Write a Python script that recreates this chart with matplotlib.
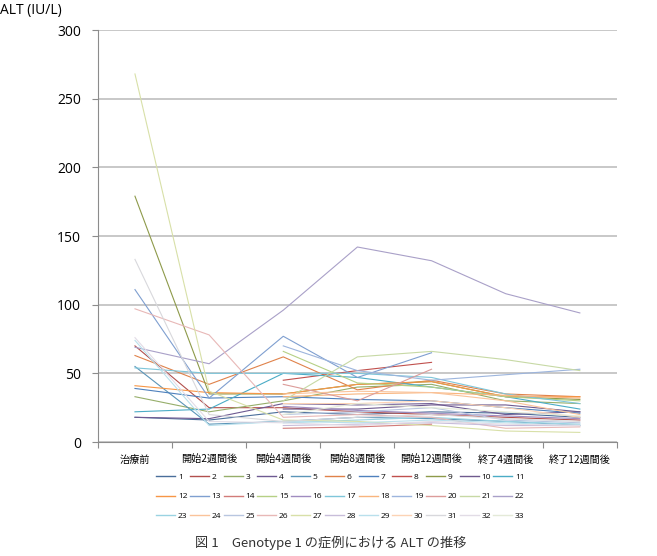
import numpy as np
import matplotlib
matplotlib.use('Agg')
import matplotlib.pyplot as plt

plt.rcParams['font.family'] = ['Open Sans', 'Noto Sans CJK JP', 'DejaVu Sans']

nan = np.nan

# categories (x axis)
categories = ['治療前', '開始2週間後', '開始4週間後', '開始8週間後', '開始12週間後', '終了4週間後', '終了12週間後']

# ALT values per patient (IU/L), nan = not measured
s1 = [18, 16, 22, 20, 22, 21, 18]
s2 = [70, 25, 25, 22, 20, 18, 16]
s3 = [33, 22, 30, 40, 42, 30, 28]
s4 = [18, 17, 28, 27, 28, 20, 22]
s5 = [55, 13, 15, 18, 17, 15, 12]
s6 = [63, 42, 62, 38, 45, 35, 33]
s7 = [39, 32, 33, 31, 30, 25, 21]
s8 = [nan, nan, 45, 52, 58, nan, nan]
s9 = [179, 35, 35, 42, 44, 33, 31]
s10 = [nan, nan, 24, 24, 27, 27, 22]
s11 = [22, 24, 50, 47, 40, 33, 24]
s12 = [41, 36, 35, 42, 44, 33, 33]
s13 = [111, 32, 77, 47, 65, nan, nan]
s14 = [nan, nan, 10, 11, 13, nan, nan]
s15 = [nan, nan, 66, 43, 40, 33, 30]
s16 = [nan, nan, 26, 23, 21, 19, 17]
s17 = [54, 50, 50, 50, 47, 35, 28]
s18 = [nan, nan, 33, 35, 36, 34, 32]
s19 = [nan, nan, 70, 52, 45, 49, 53]
s20 = [nan, nan, 42, 30, 53, nan, nan]
s21 = [nan, nan, 30, 62, 66, 60, 52]
s22 = [69, 57, 96, 142, 132, 108, 94]
s23 = [nan, nan, 14, 16, 18, 15, 13]
s24 = [nan, nan, 35, 37, 36, 30, 20]
s25 = [nan, nan, 20, 22, 25, 16, 14]
s26 = [97, 78, 18, 20, 18, 10, 11]
s27 = [268, 37, 16, 15, 12, 8, 7]
s28 = [nan, nan, 12, 13, 14, 12, 12]
s29 = [74, 12, 15, 14, 16, 14, 12]
s30 = [nan, nan, 28, 28, 30, 25, 18]
s31 = [133, 20, 15, 18, 20, 17, 15]
s32 = [76, 15, 14, 12, 15, 13, 12]
s33 = [nan, nan, 20, 28, 25, 22, 19]

series = [s1, s2, s3, s4, s5, s6, s7, s8, s9, s10, s11, s12, s13, s14, s15, s16, s17,
          s18, s19, s20, s21, s22, s23, s24, s25, s26, s27, s28, s29, s30, s31, s32, s33]
labels = [str(i + 1) for i in range(len(series))]

colors = ['#4A6E9A', '#B2504D', '#96AE6A', '#6E5A92', '#5B95B8', '#E0824A',
          '#4F81BD', '#C0504D', '#8E9A4A', '#6F5A8E', '#4BACC6', '#F79646',
          '#7F9FD0', '#D27B79', '#B6D085', '#A08CC0', '#7FC6DA', '#F9B57E',
          '#9DB5DD', '#DC9C9A', '#C7D9A5', '#A9A0C8', '#9AD3E2', '#FAC39A',
          '#B8C6E0', '#E8B8B7', '#D8E0A8', '#C8BDDA', '#B9E0EC', '#FCD3B5',
          '#D8D8DC', '#E2DCE6', '#E4EAD8']

fig = plt.figure(figsize=(6.57, 5.56), dpi=100)
ax = fig.add_axes([0.149, 0.205, 0.79, 0.741])

x = np.arange(len(categories))
handles = []
for i in range(len(series)):
    h, = ax.plot(x, series[i], color=colors[i], lw=0.8)
    handles.append(h)

ax.set_xlim(-0.5, len(categories) - 0.5)
ax.set_ylim(0, 300)
ax.set_yticks(np.arange(0, 301, 50))
ax.yaxis.grid(True, color='#BFBFBF', lw=1.2)
ax.set_axisbelow(True)
for side in ['top', 'right']:
    ax.spines[side].set_visible(False)
ax.spines['left'].set_color('#8C8C8C')
ax.spines['bottom'].set_color('#8C8C8C')
ax.tick_params(axis='y', length=4, color='#8C8C8C', labelsize=10, pad=8)
ax.set_xticks(np.arange(-0.5, len(categories)), minor=False)
ax.set_xticklabels([])
ax.tick_params(axis='x', length=4, color='#8C8C8C')
ax.set_xticks(x, minor=True)
ax.set_xticklabels(categories, minor=True, fontsize=7.3, family=['Noto Sans CJK JP', 'DejaVu Sans'])
ax.tick_params(axis='x', which='minor', length=0, pad=9)

fig.text(0.0, 0.982, 'ALT (IU/L)', fontsize=10, va='center', ha='left')

# legend row-major: 11 per row
order = []
for c in range(11):
    for r in range(3):
        order.append(c + 11 * r)
leg_handles = []
for k in order:
    lh, = ax.plot([], [], color=colors[k], lw=1.0)
    leg_handles.append(lh)
fig.legend(leg_handles, [labels[k] for k in order], ncol=11,
           loc='center', bbox_to_anchor=(0.518, 0.107), frameon=False,
           fontsize=6, handlelength=2.3, handletextpad=0.3, columnspacing=0.3,
           labelspacing=1.45)

fig.text(0.503, 0.023, '図 1　Genotype 1 の症例における ALT の推移', fontsize=9.5,
         ha='center', va='center', color='#333333',
         family=['Noto Sans CJK JP', 'DejaVu Sans'])

fig.savefig('out.png', dpi=100)
